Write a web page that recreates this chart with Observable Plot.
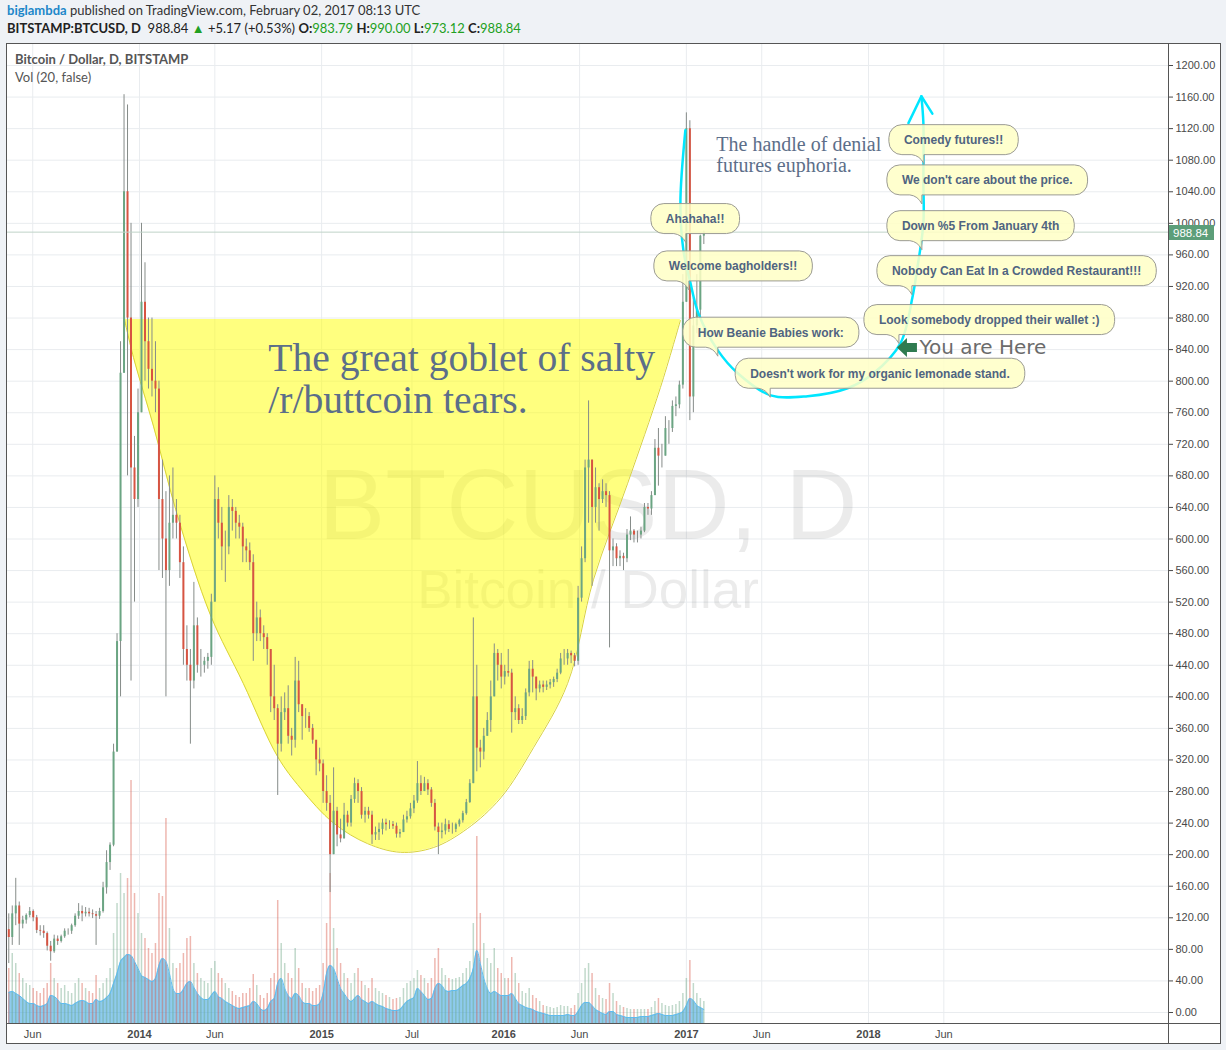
<!DOCTYPE html>
<html>
<head>
<meta charset="utf-8">
<script src="https://cdn.jsdelivr.net/npm/d3@7"></script>
<script src="https://cdn.jsdelivr.net/npm/@observablehq/plot@0.6"></script>
<style>
html,body{margin:0;padding:0;background:#eff2f6;}
body{width:1226px;height:1050px;position:relative;overflow:hidden;font-family:Lato,"Open Sans",sans-serif;}
.hdr{position:absolute;left:7px;font-size:13px;line-height:17px;white-space:nowrap;color:#333;}
#h1{top:2px;}
#h2{top:20px;color:#222;}
#h1 .user{color:#1d87c9;font-weight:bold;}
#h2 b{font-weight:bold;}
#h2 .g{color:#22a022;}
#box{position:absolute;left:6px;top:43px;width:1213px;height:999px;border:1px solid #555;background:#fff;}
#legend{position:absolute;left:8px;top:6px;font-size:13px;line-height:18px;color:#555;pointer-events:none;}
#legend b{font-weight:bold;}
#chart svg{display:block;}
</style>
</head>
<body>
<div class="hdr" id="h1"><span class="user">biglambda</span> published on TradingView.com, February 02, 2017 08:13 UTC</div>
<div class="hdr" id="h2"><b>BITSTAMP:BTCUSD, D</b>&nbsp; 988.84 <span class="g">▲</span> +5.17 (+0.53%) <b>O:</b><span class="g">983.79</span> <b>H:</b><span class="g">990.00</span> <b>L:</b><span class="g">973.12</span> <b>C:</b><span class="g">988.84</span></div>
<div id="box">
  <div id="chart"></div>
  <div id="legend"><b>Bitcoin / Dollar, D, BITSTAMP</b><br>Vol (20, false)</div>
</div>
<script>
// ---------- DATA (weekly candles) ----------
const START = "2013-04-11";            // first week
const firstOpen = 105;
const highs = [125,135,170,140,122,125,133,130,123,110,110,102,90,98,97,98,106,106,112,125,138,135,133,132,130,128,132,165,205,215,340,480,850,1163,1150,1000,730,790,
1000,950,880,880,850,800,700,660,680,690,650,630,590,490,460,545,500,460,450,455,530,680,665,640,610,655,650,640,630,620,600,595,580,520,510,490,480,460,440,390,400,405,414,360,450,445,390,385,380,365,340,335,
320,300,275,310,260,245,265,255,275,297,295,285,260,260,255,235,240,245,245,243,242,240,232,250,255,265,275,318,300,298,295,285,270,240,240,245,243,240,240,245,255,270,295,500,440,345,360,380,420,467,460,455,440,
460,435,400,390,385,410,445,446,425,420,420,420,422,425,435,455,460,460,458,455,540,590,700,775,700,690,670,675,670,660,600,594,585,582,612,628,612,610,615,645,645,660,726,740,720,755,750,775,780,800,935,1140,1130,905,935,985,990];
const lows = [62,85,110,85,106,112,120,115,100,97,94,78,65,75,85,88,94,98,99,108,118,115,121,121,119,85,118,126,150,180,210,330,400,810,680,420,520,640,
760,800,790,780,760,560,550,400,540,600,600,550,440,420,340,410,430,425,430,435,440,520,600,560,545,580,610,600,600,570,570,560,445,470,470,460,440,380,370,275,330,370,340,325,335,380,345,360,355,340,300,305,
265,255,152,200,210,215,220,235,235,265,265,245,240,245,213,218,218,225,230,232,232,221,221,228,240,245,252,265,275,280,275,260,230,200,220,225,228,226,228,235,240,250,265,290,305,310,320,350,355,400,420,410,415,
425,354,370,365,365,370,400,405,395,405,405,408,410,412,418,428,440,440,442,438,440,520,570,620,540,620,610,645,640,462,565,565,565,560,570,598,595,595,600,608,630,630,655,667,690,705,720,735,755,765,790,900,750,760,860,880,973.12];
const closes = [95,125,135,112,117,123,128,120,104,103,100,84,77,93,90,96,103,103,110,122,128,125,127,125,124,122,128,158,190,212,330,470,810,1040,880,690,650,760,
900,850,815,800,790,650,600,560,620,630,620,570,460,440,420,490,440,440,445,450,520,650,620,590,590,640,635,620,615,590,585,570,480,500,480,475,460,400,385,340,380,385,350,345,420,390,375,375,360,345,320,315,
280,265,200,255,225,220,250,240,270,290,280,250,255,250,225,228,232,240,238,238,236,226,228,244,248,258,268,290,280,290,282,265,235,228,230,238,232,232,238,243,252,266,290,400,335,330,350,370,400,455,440,425,432,
430,380,385,370,375,405,435,425,410,415,412,415,418,422,430,448,448,455,452,445,525,575,690,700,640,665,650,660,655,585,590,575,578,575,605,610,605,605,610,640,638,655,715,705,705,740,740,768,770,795,900,1120,780,870,890,983.79,988.84];
// volume, thousands of BTC: weekly peak day and 20-day average
const volPeak = [55,70,60,50,45,40,38,35,32,30,35,40,60,45,40,35,38,32,30,40,45,40,35,32,30,48,35,40,45,55,90,120,150,130,145,243,130,110,
90,85,75,70,80,130,127,205,95,60,55,60,70,85,87,60,50,45,42,40,55,62,50,45,40,35,32,28,26,30,30,35,49,38,28,25,30,45,50,123,80,60,50,45,75,55,40,35,35,32,35,38,
60,100,150,95,75,60,50,45,40,50,55,42,38,35,45,35,32,30,28,26,24,25,26,35,40,42,45,53,48,45,40,45,65,75,55,48,45,44,45,46,50,55,62,100,187,110,80,65,60,75,55,50,45,
45,66,50,40,32,30,35,28,25,22,18,17,16,15,16,18,17,17,15,18,30,40,55,60,50,35,28,25,24,40,30,22,18,16,15,14,14,14,14,14,14,16,22,25,20,18,17,18,19,22,30,45,63,40,30,25,22];
const volMA = [31,32,30,28,25,22,20,20,18,17,18,20,28,27,24,20,20,19,18,20,22,23,22,20,20,24,22,23,26,30,40,50,62,66,69,68,62,55,
48,46,44,42,45,58,65,62,50,35,30,30,34,40,42,36,30,26,24,24,28,32,27,25,22,20,18,16,15,16,17,18,22,20,15,13,15,22,25,40,45,35,28,25,30,28,22,20,20,18,18,20,
30,50,58,55,45,35,30,25,22,25,28,24,22,20,22,20,18,17,15,14,13,13,14,18,22,24,26,35,32,28,24,25,35,40,38,33,32,33,33,35,38,40,45,55,73,60,45,35,30,32,30,28,28,
28,30,25,20,18,16,15,14,12,11,10,9,8,8,8,8,8,9,8,8,12,18,21,21,18,14,12,10,9,12,12,9,8,7,6,6,6,6,7,7,7,8,9,10,9,8,8,8,9,10,12,18,25,23,18,16,14];
const lastPrice = 988.84;

// axis ticks
const priceTicks = d3.range(0, 1201, 40);
const monthTicks = ["2013-06-01","2014-06-01","2015-07-01","2016-06-01","2017-06-01","2018-06-01"];
const monthLabels = ["Jun","Jun","Jul","Jun","Jun","Jun"];
const yearTicks = ["2014-01-01","2015-01-01","2016-01-01","2017-01-01","2018-01-01"];
const yearLabels = ["2014","2015","2016","2017","2018"];

// drawings on the chart (time, price)
const gobletDates = ["2013-12-02","2013-12-20","2014-01-29","2014-03-18","2014-05-23","2014-07-28","2014-10-05","2014-11-20","2015-01-25","2015-04-03","2015-06-08","2015-08-13","2015-10-20","2015-12-26","2016-03-01","2016-05-08","2016-06-29","2016-09-05","2016-11-10","2016-12-20"];
const gobletPrices = [878,830,743,630,504,417,324,284,240,214,203,209,233,272,336,417,549,670,792,877];
const gobletTop = 878;
const cyanDates = ["2016-12-30","2016-12-20","2016-12-26","2017-01-09","2017-01-25","2017-03-05","2017-04-14","2017-06-19","2017-09-01","2017-11-20","2018-01-11","2018-03-06","2018-03-30","2018-04-09","2018-04-21","2018-04-21","2018-04-21","2018-04-17"];
const cyanPrices = [1118,1025,966,925,886,839,810,782,781,791,810,848,906,944,1000,1054,1127,1161];
const arrowDates = ["2018-03-22","2018-04-17","2018-05-09"];
const arrowPrices = [1127,1161,1139];
const bubbleTexts = ["Ahahaha!!","Welcome bagholders!!","How Beanie Babies work:","Doesn't work for my organic lemonade stand.","Comedy futures!!","We don't care about the price.","Down %5 From January 4th","Nobody Can Eat In a Crowded Restaurant!!!","Look somebody dropped their wallet :)"];
const bubbleDates = ["2017-01-01","2017-01-07","2017-03-06","2017-06-19","2018-04-23","2018-04-19","2018-04-19","2018-03-30","2018-03-04"];
const bubblePrices = [975,915,831,779,1075,1024,966,909,847];
const noteTexts = ["The great goblet of salty\n/r/buttcoin tears.","The handle of denial\nfutures euphoria."];
const noteDates = ["2014-09-16","2017-03-02"];
const notePrices = [851,1111];
const noteSizes = [39.6,20];
const hereText = "You are Here";
const hereDate = "2018-02-28";
const herePrice = 842;

// ---------- BUILD ----------
const W = 1213, H = 999, MR = 52, MB = 20;
const Y0 = 968, Y1200 = 21;                // pixel range of 0 .. 1200
const pxPerUnit = (Y0 - Y1200) / 1200;
const VOL_BASE = -((H - MB) - Y0) / pxPerUnit;   // volume pane sits on the time axis line
const VOL_K = 1 / pxPerUnit;                      // 1 px per thousand BTC
const UP = "#6ba583", DOWN = "#d75442";

const candles = closes.map((c, i) => ({
  date: d3.utcDay.offset(new Date(START), 7 * i + 3),
  open: i === 0 ? firstOpen : closes[i - 1],
  high: highs[i], low: lows[i], close: c,
  vol: volPeak[i], ma: volMA[i]
}));
candles.forEach(d => d.color = d.close >= d.open ? UP : DOWN);
const goblet = gobletDates.map((d, i) => ({date: new Date(d), price: gobletPrices[i]}));
const cyan = cyanDates.map((d, i) => ({date: new Date(d), price: cyanPrices[i]}));
const arrowHead = arrowDates.map((d, i) => ({date: new Date(d), price: arrowPrices[i]}));
const notes = noteTexts.map((t, i) => ({text: t, date: new Date(noteDates[i]), price: notePrices[i], size: noteSizes[i]}));

const measureCtx = document.createElement("canvas").getContext("2d");

function frameLines(index, scales, values, dim) {
  const g = d3.create("svg:g");
  const xr = dim.width - dim.marginRight, yb = dim.height - dim.marginBottom;
  g.append("line").attr("x1", xr + 0.5).attr("x2", xr + 0.5).attr("y1", 0).attr("y2", dim.height).attr("stroke", "#555");
  g.append("line").attr("x1", 0).attr("x2", dim.width).attr("y1", yb + 0.5).attr("y2", yb + 0.5).attr("stroke", "#555");
  return g.node();
}
function priceLabel(index, scales, values, dim) {
  const g = d3.create("svg:g");
  const y = Math.round(scales.y(lastPrice));
  const x0 = dim.width - dim.marginRight + 1;
  g.append("rect").attr("x", x0).attr("y", y - 7).attr("width", 45).attr("height", 15).attr("fill", "#5c9e79");
  g.append("text").attr("x", x0 + 4).attr("y", y + 4.5).attr("text-anchor", "start").attr("fill", "#fff").attr("font-size", 11.5)
    .attr("font-family", "'Liberation Sans', Arial, sans-serif").text(lastPrice.toFixed(2));
  return g.node();
}
function bubbles(index, scales) {
  const g = d3.create("svg:g");
  measureCtx.font = "bold 12px 'Liberation Sans'";
  bubbleTexts.forEach((t, i) => {
    const tx = scales.x(new Date(bubbleDates[i])), ty = scales.y(bubblePrices[i]);
    const w = measureCtx.measureText(t).width + 30, h = 30, r = 13;
    const L = tx - 35, B = ty - 9, T = B - h, R = L + w;
    const p = `M${L + r},${T} H${R - r} A${r},${r} 0 0 1 ${R},${T + r} V${B - r} A${r},${r} 0 0 1 ${R - r},${B} H${tx} L${tx},${ty} Q${tx - 4},${B + 1} ${tx - 12},${B} H${L + r} A${r},${r} 0 0 1 ${L},${B - r} V${T + r} A${r},${r} 0 0 1 ${L + r},${T} Z`;
    g.append("path").attr("d", p).attr("fill", "#ffffc6").attr("fill-opacity", 0.86).attr("stroke", "#9b9b94").attr("stroke-width", 1);
    g.append("text").attr("x", L + w / 2).attr("y", T + h / 2 + 4.3).attr("text-anchor", "middle")
      .attr("font-family", "'Liberation Sans', Arial, sans-serif").attr("font-weight", "bold").attr("font-size", 12)
      .attr("fill", "#4f6481").text(t);
  });
  return g.node();
}
function hereArrow(index, scales) {
  const x = scales.x(new Date(hereDate)), y = scales.y(herePrice);
  const pts = [[0,0],[10,-9.5],[10,-4.5],[20,-4.5],[20,4.5],[10,4.5],[10,9.5]].map(([a,b]) => `${x + a},${y + b}`).join(" ");
  const g = d3.create("svg:g");
  g.append("polygon").attr("points", pts).attr("fill", "#2f7b50");
  return g.node();
}

const chart = Plot.plot({
  width: W, height: H,
  marginLeft: 0, marginRight: MR, marginTop: 0, marginBottom: MB,
  style: {fontFamily: "'Liberation Sans', Arial, sans-serif", background: "transparent", overflow: "visible"},
  x: {type: "utc", domain: [new Date("2014-01-01"), new Date("2018-01-01")], range: [132, 861]},
  y: {type: "linear", domain: [0, 1200], range: [Y0, Y1200]},
  marks: [
    Plot.gridY(priceTicks, {stroke: "#e9ecef", strokeOpacity: 1}),
    Plot.gridX(monthTicks.concat(yearTicks).map(d => new Date(d)), {stroke: "#e9ecef", strokeOpacity: 1}),
    Plot.text(["BTCUSD, D"], {text: d => d, frameAnchor: "middle", dy: -27, fontSize: 100, fill: "#000", fillOpacity: 0.08}),
    Plot.text(["Bitcoin / Dollar"], {text: d => d, frameAnchor: "middle", dy: 57, fontSize: 53, fill: "#000", fillOpacity: 0.08}),
    Plot.areaY(goblet, {x: "date", y1: "price", y2: gobletTop, curve: "catmull-rom", fill: "#ffff00", fillOpacity: 0.5}),
    Plot.line(goblet, {x: "date", y: "price", curve: "catmull-rom", stroke: "#d9d23a", strokeWidth: 1}),
    Plot.areaY(candles, {x: "date", y1: VOL_BASE, y2: d => VOL_BASE + d.ma * VOL_K, curve: "monotone-x", fill: "#42a9e3", fillOpacity: 0.6}),
    Plot.ruleX(candles, {x: "date", y1: VOL_BASE, y2: d => VOL_BASE + d.vol * VOL_K, stroke: "color", strokeOpacity: 0.42, strokeWidth: 1.5}),
    Plot.line(candles, {x: "date", y: d => VOL_BASE + d.ma * VOL_K, curve: "monotone-x", stroke: "#5ebcf0", strokeWidth: 1}),
    Plot.ruleX(candles, {x: "date", y1: "low", y2: "high", stroke: "#868c89", strokeWidth: 1}),
    Plot.ruleX(candles, {x: "date", y1: "open", y2: "close", stroke: "color", strokeWidth: 2}),
    Plot.ruleY([lastPrice], {stroke: "#bfd3c8", strokeWidth: 1}),
    frameLines,
    Plot.axisY(priceTicks, {anchor: "right", tickFormat: d => d.toFixed(2), tickSize: 4, tickPadding: 3, fontSize: 11, color: "#4a4a4a", label: null}),
    Plot.axisX(monthTicks.map(d => new Date(d)), {tickFormat: (d, i) => monthLabels[i], tickSize: 0, tickPadding: 7, fontSize: 11, color: "#4a4a4a", label: null}),
    Plot.axisX(yearTicks.map(d => new Date(d)), {tickFormat: (d, i) => yearLabels[i], tickSize: 0, tickPadding: 7, fontSize: 11, fontWeight: "bold", color: "#4a4a4a", label: null}),
    priceLabel,
    Plot.line(cyan, {x: "date", y: "price", curve: "catmull-rom", stroke: "#00e6ff", strokeWidth: 2.5}),
    Plot.line(arrowHead, {x: "date", y: "price", stroke: "#00e6ff", strokeWidth: 2.5}),
    bubbles,
    Plot.text(notes, {x: "date", y: "price", text: "text", fontSize: d => d.size, textAnchor: "start", lineAnchor: "top", lineHeight: 1.06, fontFamily: "'Liberation Serif', 'Times New Roman', serif", fill: "#5c6e89"}),
    hereArrow,
    Plot.text([hereText], {x: () => new Date(hereDate), y: () => herePrice, text: d => d, dx: 22, textAnchor: "start", fontSize: 20, fontFamily: "'DejaVu Sans', sans-serif", fill: "#6b6b6b"})
  ]
});
document.getElementById("chart").appendChild(chart);
</script>
</body>
</html>
